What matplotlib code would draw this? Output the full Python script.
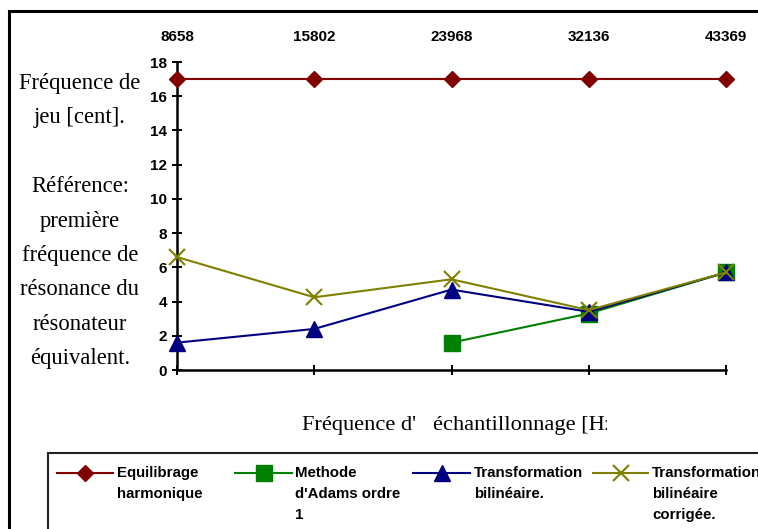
import numpy as np
import matplotlib
matplotlib.use("Agg")
import matplotlib.pyplot as plt
from matplotlib.lines import Line2D
from matplotlib.patches import Rectangle
from matplotlib.transforms import Bbox, TransformedBbox
from matplotlib import font_manager

# ---- data ----
freqs = ["8658", "15802", "23968", "32136", "43369"]
equilibrage = [17, 17, 17, 17, 17]
adams = [np.nan, np.nan, 1.6, 3.3, 5.7]
bilineaire = [1.6, 2.4, 4.7, 3.4, 5.7]
bilin_corr = [6.6, 4.25, 5.3, 3.5, 5.7]
yticks = [0, 2, 4, 6, 8, 10, 12, 14, 16, 18]
series_names = ["Equilibrage\nharmonique", "Methode\nd'Adams ordre\n1",
                "Transformation\nbilinéaire.", "Transformation\nbilinéaire\ncorrigée."]

W, H = 758, 529
fig = plt.figure(figsize=(W / 100, H / 100), dpi=100)

def fx(px):
    return px / W

def fy(py):
    return 1 - py / H

ax = fig.add_axes([fx(177), fy(370), fx(726) - fx(177), fy(62) - fy(370)])
x = np.arange(len(freqs))

RED, GREEN, BLUE, OLIVE = "#800000", "#008000", "#000080", "#808000"
styles = [
    (equilibrage, RED, "D", 7.8, {}),
    (adams, GREEN, "s", 11, {}),
    (bilineaire, BLUE, "^", 11, {}),
    (bilin_corr, OLIVE, "x", 11, {"mew": 1.5}),
]
for i, (vals, c, m, ms, extra) in enumerate(styles):
    ax.plot(x, vals, color=c, marker=m, ms=ms, lw=1.5, mfc=c, mec=c,
            clip_on=False, zorder=3 + i, **extra)

ax.set_xlim(0, len(freqs) - 1)
ax.set_ylim(0, 18)
ax.set_yticks(yticks)
ax.set_xticks(x)
ax.set_xticklabels(freqs)
for s in ["top", "right"]:
    ax.spines[s].set_visible(False)
for s in ["left", "bottom"]:
    ax.spines[s].set_linewidth(1.8)

tickfont = dict(family="Liberation Sans", weight="bold", size=11)
ax.tick_params(axis="y", direction="inout", length=6.5, width=1.4, pad=4)
ax.tick_params(axis="x", direction="inout", length=6.5, width=1.4,
               bottom=True, top=False, labelbottom=False, labeltop=True, pad=10)
for lab in ax.get_yticklabels() + ax.get_xticklabels():
    lab.set_fontproperties(font_manager.FontProperties(**tickfont))

# left label
fig.text(fx(80), fy(221), "Fréquence de\njeu [cent].\n\nRéférence:\npremière\nfréquence de\n"
         "résonance du\nrésonateur\néquivalent.",
         ha="center", va="center", family="Liberation Serif", fontsize=16.3,
         linespacing=1.84)

# x label, clipped on the right
t = fig.text(fx(302), fy(430), "Fréquence d'   échantillonnage [Hz]",
             ha="left", va="baseline", family="Liberation Serif", fontsize=16.15)
t.set_clip_box(TransformedBbox(Bbox([[0, 0], [fx(607), 1]]), fig.transFigure))
t.set_clip_on(True)

# outer frame
fig.patches.append(Rectangle((fx(9), -0.2), 1.5, fy(11) + 0.2, transform=fig.transFigure,
                             fill=False, lw=2.2, ec="black", clip_on=False))
# legend frame
fig.patches.append(Rectangle((fx(48), -0.2), 1.5, fy(453) + 0.2, transform=fig.transFigure,
                             fill=False, lw=1.5, ec="#222222", clip_on=False))

leg_cols = [(57, 113, 117), (235, 292, 295), (413, 470, 474), (593, 648, 652)]
for (x0, x1, xt), (vals, c, m, ms, extra), name in zip(leg_cols, styles, series_names):
    ln = Line2D([fx(x0), fx(x1)], [fy(473), fy(473)], transform=fig.transFigure,
                color=c, lw=1.5)
    mk = Line2D([fx((x0 + x1) / 2)], [fy(473)], transform=fig.transFigure, color=c,
                marker=m, ms=ms, mfc=c, mec=c, lw=0, **extra)
    fig.lines.extend([ln, mk])
    fig.text(fx(xt), fy(466), name, ha="left", va="top",
             family="Liberation Sans", weight="bold", fontsize=10.8, linespacing=1.62)

fig.savefig("out.png", dpi=100)
